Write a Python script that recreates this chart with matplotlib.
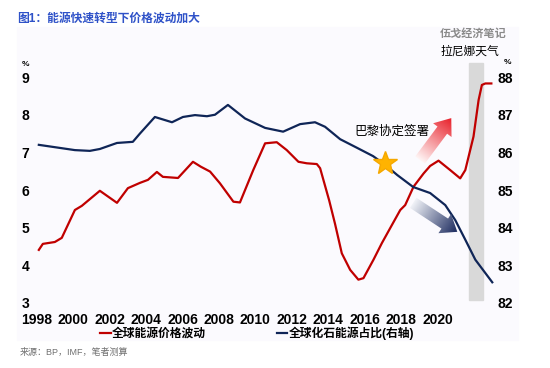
import numpy as np
import matplotlib.pyplot as plt
from matplotlib.patches import FancyArrow, Rectangle
from matplotlib.colors import LinearSegmentedColormap

plt.rcParams["font.family"] = ["Liberation Sans", "Noto Sans CJK SC", "DejaVu Sans"]

# 全球能源价格波动 (left axis, %)
price_years = [1998.11, 1998.33, 1998.99, 1999.37, 2000.09, 2000.47, 2001.46, 2002.40,
               2003.00, 2003.66, 2004.10, 2004.59, 2004.92, 2005.75, 2006.57, 2007.00,
               2007.51, 2008.05, 2008.79, 2009.15, 2009.88, 2010.53, 2011.17, 2011.72,
               2012.36, 2012.82, 2013.37, 2013.55, 2014.05, 2014.37, 2014.74, 2015.20,
               2015.65, 2015.93, 2016.48, 2016.94, 2017.49, 2017.95, 2018.22, 2018.68,
               2019.23, 2019.59, 2020.05, 2020.69, 2021.24, 2021.52, 2021.97, 2022.25,
               2022.43, 2022.62, 2022.95]
price_vol = [4.41, 4.57, 4.62, 4.73, 5.47, 5.58, 5.98, 5.66,
             6.05, 6.19, 6.27, 6.48, 6.35, 6.32, 6.75, 6.62,
             6.49, 6.18, 5.69, 5.67, 6.53, 7.24, 7.27, 7.06,
             6.75, 6.71, 6.69, 6.58, 5.72, 5.10, 4.32, 3.88,
             3.62, 3.66, 4.15, 4.59, 5.07, 5.47, 5.60, 6.09,
             6.44, 6.64, 6.78, 6.53, 6.31, 6.53, 7.42, 8.39,
             8.79, 8.83, 8.83]

# 全球化石能源占比 (right axis, %)
share_years = [1998.11, 2000.09, 2000.91, 2001.46, 2002.40, 2003.27, 2003.66, 2004.48,
               2005.42, 2006.02, 2006.68, 2007.34, 2007.78, 2008.49, 2009.43, 2010.53,
               2011.52, 2012.45, 2013.27, 2013.82, 2014.65, 2015.58, 2016.46, 2017.12,
               2017.78, 2018.66, 2019.59, 2020.42, 2020.97, 2021.52, 2022.07, 2023.00]
share_vals = [86.20, 86.06, 86.04, 86.09, 86.25, 86.28, 86.50, 86.94,
              86.80, 86.94, 86.99, 86.96, 87.00, 87.26, 86.90, 86.65,
              86.55, 86.75, 86.80, 86.68, 86.35, 86.12, 85.90, 85.67,
              85.40, 85.08, 84.92, 84.60, 84.20, 83.68, 83.15, 82.55]

x_ticks = list(range(1998, 2021, 2))
left_ticks = [3, 4, 5, 6, 7, 8, 9]
right_ticks = [82, 83, 84, 85, 86, 87, 88]

paris_point = (2017.12, 85.72)
lanina_years = (2021.7, 2022.5)
lanina_share = (82.08, 88.37)

red_arrow = ((2019.04, 6.80), (2020.75, 7.91))     # left axis coords
blue_arrow = ((2018.66, 84.66), (2021.08, 83.89))   # right axis coords

RED = "#C00000"
NAVY = "#0F2557"

W, H = 550, 368
fig = plt.figure(figsize=(W / 100, H / 100), dpi=100)

# faint panel behind the chart
fig.add_artist(Rectangle((17 / W, (H - 340) / H), 501 / W, 313 / H,
                         transform=fig.transFigure, color="#FBFAFE", zorder=0))

ax = fig.add_axes([35 / W, 65 / H, 460 / W, 241 / H])
ax.set_facecolor("none")
ax.set_xlim(1997.9, 2023.15)
ax.set_ylim(3, 9.4)
ax2 = ax.twinx()
ax2.set_ylim(82, 88.4)

# 拉尼娜 shading (drawn on left axis so it sits under both lines)
off = 3 - 82
ax.add_patch(Rectangle((lanina_years[0], lanina_share[0] + off),
                       lanina_years[1] - lanina_years[0],
                       lanina_share[1] - lanina_share[0],
                       color="#D9D9D9", zorder=0, clip_on=False))

l1, = ax.plot(price_years, price_vol, color=RED, lw=1.6, zorder=3,
              label="全球能源价格波动", solid_joinstyle="round")
l2, = ax2.plot(share_years, share_vals, color=NAVY, lw=1.6, zorder=3,
               label="全球化石能源占比(右轴)", solid_joinstyle="round")
ax2.plot(*paris_point, marker="*", markersize=18, color="#FFB300",
         markeredgecolor="#F5A800", zorder=5)

for a in (ax, ax2):
    for s in a.spines.values():
        s.set_visible(False)
ax.set_xticks(x_ticks)
ax.set_yticks(left_ticks)
ax2.set_yticks(right_ticks)
ax.tick_params(axis="x", length=0, pad=7, labelsize=10)
ax.tick_params(axis="y", length=0, pad=4, labelsize=10)
ax2.tick_params(axis="y", length=0, pad=2, labelsize=10)
for lab in ax.get_xticklabels() + ax.get_yticklabels() + ax2.get_yticklabels():
    lab.set_fontweight("bold")

fig.text(25 / W, 1 - 64 / H, "%", fontsize=6, fontweight="bold", ha="center", va="center")
fig.text(508 / W, 1 - 62 / H, "%", fontsize=6, fontweight="bold", ha="center", va="center")

ax.text(2017.5, 7.55, "巴黎协定签署", fontsize=9, ha="center", va="center")

fig.text(17 / W, 1 - 19 / H, "图1：能源快速转型下价格波动加大", fontsize=8.5,
         fontweight="bold", color="#2F52C8", ha="left", va="center")
fig.text(473 / W, 1 - 34 / H, "伍戈经济笔记", fontsize=8, fontweight="bold",
         color="#8A8A8A", ha="center", va="center")
fig.text(470 / W, 1 - 52 / H, "拉尼娜天气", fontsize=8.5, color="black",
         ha="center", va="center")
fig.text(20 / W, 1 - 352 / H, "来源：BP，IMF，笔者测算", fontsize=6.5,
         color="#707070", ha="left", va="center")

fig.legend(handles=[l1, l2], loc="center", bbox_to_anchor=(257 / W, 1 - 333 / H),
           ncol=2, frameon=False, handlelength=0.9, handletextpad=0.1,
           columnspacing=6, prop={"size": 8.5, "weight": "bold"})

# gradient arrows on an overlay in pixel units
ov = fig.add_axes([0, 0, 1, 1], zorder=5)
ov.axis("off")


def gradient_arrow(p0, p1, c0, c1, width, head_w, head_l):
    (x0, y0), (x1, y1) = p0, p1
    arrow = FancyArrow(x0, y0, x1 - x0, y1 - y0, width=width, head_width=head_w,
                       head_length=head_l, length_includes_head=True,
                       facecolor="none", edgecolor="none")
    ov.add_patch(arrow)
    xs = np.linspace(min(x0, x1) - head_w, max(x0, x1) + head_w, 150)
    ys = np.linspace(min(y0, y1) - head_w, max(y0, y1) + head_w, 150)
    gx, gy = np.meshgrid(xs, ys)
    dx, dy = x1 - x0, y1 - y0
    t = np.clip(((gx - x0) * dx + (gy - y0) * dy) / (dx * dx + dy * dy), 0, 1)
    cmap = LinearSegmentedColormap.from_list("g", [c0, c1])
    im = ov.imshow(t, cmap=cmap, vmin=0, vmax=1, origin="lower", aspect="auto",
                   extent=(xs[0], xs[-1], ys[0], ys[-1]), interpolation="bilinear")
    im.set_clip_path(arrow)


rp = [ax.transData.transform(p) for p in red_arrow]
bp = [ax2.transData.transform(p) for p in blue_arrow]
gradient_arrow(rp[0], rp[1], "#FFF4F4", "#E8202A", 12, 23, 15)
gradient_arrow(bp[0], bp[1], "#F0F2F7", "#1B2A5E", 12, 23, 15)
ov.set_xlim(0, W)
ov.set_ylim(0, H)

fig.savefig("out.png", dpi=100)
